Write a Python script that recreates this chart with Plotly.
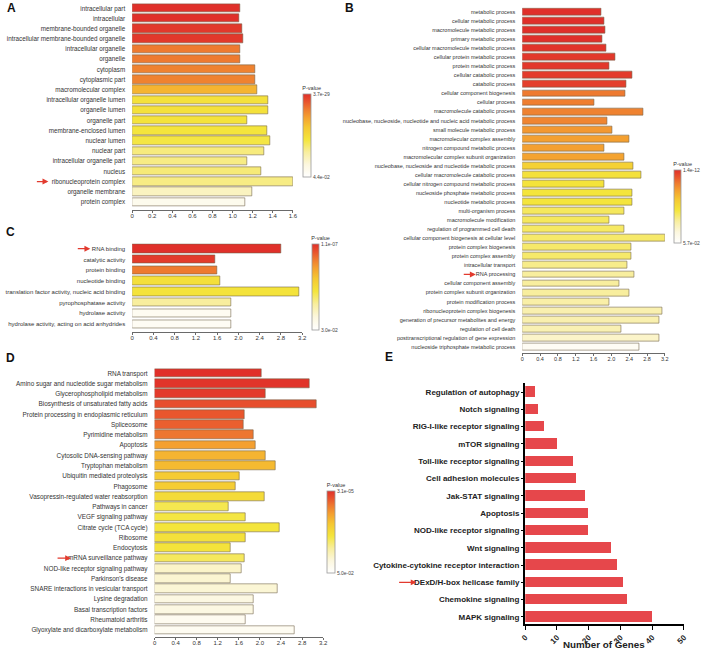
import plotly.graph_objects as go

W, H = 708, 649

# ---------------- data ----------------
A_TERMS = ["intracellular part", "intracellular", "membrane-bounded organelle",
           "intracellular membrane-bounded organelle", "intracellular organelle", "organelle",
           "cytoplasm", "cytoplasmic part", "macromolecular complex",
           "intracellular organelle lumen", "organelle lumen", "organelle part",
           "membrane-enclosed lumen", "nuclear lumen", "nuclear part",
           "intracellular organelle part", "nucleus", "ribonucleoprotein complex",
           "organelle membrane", "protein complex"]
A_ENRICH = [1.075, 1.07, 1.10, 1.11, 1.08, 1.075, 1.22, 1.22, 1.24, 1.35, 1.35, 1.14,
            1.34, 1.37, 1.31, 1.14, 1.28, 1.60, 1.19, 1.13]
A_SIG = [1.0, 1.0, 0.98, 0.98, 0.82, 0.82, 0.80, 0.80, 0.66, 0.47, 0.47, 0.46,
         0.45, 0.44, 0.35, 0.34, 0.36, 0.34, 0.22, 0.08]
A_PV = ("3.7e-29", "4.4e-02")

B_TERMS = ["metabolic process", "cellular metabolic process", "macromolecule metabolic process",
           "primary metabolic process", "cellular macromolecule metabolic process",
           "cellular protein metabolic process", "protein metabolic process",
           "cellular catabolic process", "catabolic process", "cellular component biogenesis",
           "cellular process", "macromolecule catabolic process",
           "nucleobase, nucleoside, nucleotide and nucleic acid metabolic process",
           "small molecule metabolic process", "macromolecular complex assembly",
           "nitrogen compound metabolic process", "macromolecular complex subunit organization",
           "nucleobase, nucleoside and nucleotide metabolic process",
           "cellular macromolecule catabolic process", "cellular nitrogen compound metabolic process",
           "nucleoside phosphate metabolic process", "nucleotide metabolic process",
           "multi-organism process", "macromolecule modification",
           "regulation of programmed cell death", "cellular component biogenesis at cellular level",
           "protein complex biogenesis", "protein complex assembly", "intracellular transport",
           "RNA processing", "cellular component assembly", "protein complex subunit organization",
           "protein modification process", "ribonucleoprotein complex biogenesis",
           "generation of precursor metabolites and energy", "regulation of cell death",
           "posttranscriptional regulation of gene expression",
           "nucleoside triphosphate metabolic process"]
B_ENRICH = [1.78, 1.83, 1.86, 1.79, 1.88, 2.08, 1.95, 2.46, 2.33, 2.31, 1.61, 2.71, 1.90,
            2.02, 2.41, 1.85, 2.29, 2.49, 2.66, 1.84, 2.47, 2.47, 2.29, 1.95, 2.28, 3.20,
            2.45, 2.45, 2.35, 2.51, 2.18, 2.40, 1.96, 3.15, 3.07, 2.23, 3.07, 2.63]
B_SIG = [1.0, 1.0, 1.0, 1.0, 0.99, 0.98, 0.98, 0.97, 0.96, 0.82, 0.81, 0.80, 0.79,
         0.74, 0.72, 0.72, 0.71, 0.55, 0.47, 0.46, 0.45, 0.45, 0.40, 0.40, 0.39, 0.38,
         0.38, 0.38, 0.33, 0.30, 0.30, 0.30, 0.28, 0.26, 0.26, 0.25, 0.20, 0.05]
B_PV = ("1.4e-12", "5.7e-02")

C_TERMS = ["RNA binding", "catalytic activity", "protein binding", "nucleotide binding",
           "translation factor activity, nucleic acid binding", "pyrophosphatase activity",
           "hydrolase activity", "hydrolase activity, acting on acid anhydrides"]
C_ENRICH = [2.80, 1.56, 1.60, 1.66, 3.15, 1.87, 1.87, 1.87]
C_SIG = [1.0, 0.97, 0.82, 0.48, 0.46, 0.30, 0.06, 0.05]
C_PV = ("1.1e-07", "3.0e-02")

D_PATHWAYS = ["RNA transport", "Amino sugar and nucleotide sugar metabolism",
              "Glycerophospholipid metabolism", "Biosynthesis of unsaturated fatty acids",
              "Protein processing in endoplasmic reticulum", "Spliceosome",
              "Pyrimidine metabolism", "Apoptosis", "Cytosolic DNA-sensing pathway",
              "Tryptophan metabolism", "Ubiquitin mediated proteolysis", "Phagosome",
              "Vasopressin-regulated water reabsorption", "Pathways in cancer",
              "VEGF signaling pathway", "Citrate cycle (TCA cycle)", "Ribosome", "Endocytosis",
              "mRNA surveillance pathway", "NOD-like receptor signaling pathway",
              "Parkinson's disease", "SNARE interactions in vesicular transport",
              "Lysine degradation", "Basal transcription factors", "Rheumatoid arthritis",
              "Glyoxylate and dicarboxylate metabolism"]
D_ENRICH = [2.03, 2.95, 2.10, 3.08, 1.70, 1.68, 1.87, 1.91, 2.11, 2.30, 1.62, 1.53, 2.09,
            1.40, 1.72, 2.37, 1.72, 1.44, 1.70, 1.66, 1.44, 2.34, 1.88, 1.88, 1.73, 2.65]
D_SIG = [1.0, 0.99, 0.97, 0.92, 0.90, 0.88, 0.83, 0.72, 0.66, 0.64, 0.58, 0.57, 0.50,
         0.42, 0.44, 0.45, 0.47, 0.46, 0.40, 0.20, 0.18, 0.17, 0.13, 0.13, 0.07, 0.06]
D_PV = ("3.1e-05", "5.0e-02")

E_PATHWAYS = ["Regulation of autophagy", "Notch signaling", "RIG-I-like receptor signaling",
              "mTOR signaling", "Toll-like receptor signaling", "Cell adhesion molecules",
              "Jak-STAT signaling", "Apoptosis", "NOD-like receptor signaling", "Wnt signaling",
              "Cytokine-cytokine receptor interaction", "DExD/H-box helicase family",
              "Chemokine signaling", "MAPK signaling"]
E_GENES = [3, 4, 6, 10, 15, 16, 19, 20, 20, 27, 29, 31, 32, 40]

GO_TICKS_A = [0, 0.2, 0.4, 0.6, 0.8, 1.0, 1.2, 1.4, 1.6]
GO_TICKS = [0, 0.4, 0.8, 1.2, 1.6, 2.0, 2.4, 2.8, 3.2]
E_TICKS = [0, 10, 20, 30, 40, 50]

# -------------- styling --------------
CS = [[0.0, "#ffffff"], [0.15, "#fcf7de"], [0.3, "#f8ee9e"], [0.45, "#f4e53c"],
      [0.6, "#f5c732"], [0.72, "#f4a030"], [0.82, "#ee7a30"], [0.91, "#e8522d"],
      [1.0, "#e0302a"]]
FONT = "Liberation Sans, Arial, sans-serif"
TXT = "#333333"
ARROW = "#e23a2e"


def fx(px):
    return px / W


def fy(px):
    return 1 - px / H


fig = go.Figure()

panels = [
    dict(n="", cats=A_TERMS, vals=A_ENRICH, sig=A_SIG, pv=A_PV, ticks=GO_TICKS_A,
         x0=129, x1=292, xmax=1.6, first=8.3, s=10.19, axis=210, bw=0.82, lab=6.3, tk=6,
         cb=(302, 92, 177, 8), arrow=("ribonucleoprotein complex", 31, 44)),
    dict(n="2", cats=B_TERMS, vals=B_ENRICH, sig=B_SIG, pv=B_PV, ticks=GO_TICKS,
         x0=524.7, x1=669.3, xmax=3.2, first=12, s=9.05, axis=353, bw=0.76, lab=5.5, tk=5.5,
         cb=(678.3, 168.3, 243.3, 7), arrow=("RNA processing", 464, 477.5)),
    dict(n="3", cats=C_TERMS, vals=C_ENRICH, sig=C_SIG, pv=C_PV, ticks=GO_TICKS,
         x0=129, x1=301.5, xmax=3.2, first=248.7, s=10.76, axis=332, bw=0.78, lab=6, tk=6,
         cb=(311, 241.7, 330, 7), arrow=("RNA binding", 72.5, 86.5)),
    dict(n="4", cats=D_PATHWAYS, vals=D_ENRICH, sig=D_SIG, pv=D_PV, ticks=GO_TICKS,
         x0=151.7, x1=322.7, xmax=3.2, first=373.3, s=10.27, axis=637, bw=0.84, lab=6.4, tk=6,
         cb=(326.7, 489, 573.3, 8), arrow=("mRNA surveillance pathway", 52, 67)),
]

annotations = []
for p in panels:
    n = len(p["cats"])
    top = p["first"] - p["s"] / 2
    yr_top = (p["axis"] - top) / p["s"] - 0.5
    xa = "x" + p["n"]
    ya = "y" + p["n"]
    cbx, cbt, cbb, cbth = p["cb"]
    fig.add_trace(go.Bar(
        x=p["vals"], y=p["cats"], orientation="h", width=p["bw"],
        xaxis=xa, yaxis=ya, showlegend=False,
        marker=dict(color=p["sig"], colorscale=CS, cmin=0, cmax=1, showscale=True,
                    line=dict(color="rgba(110,95,70,0.8)", width=0.7),
                    colorbar=dict(
                        title=dict(text="P-value", side="top",
                                   font=dict(size=5.5, color=TXT, family=FONT)),
                        tickvals=[0, 1], ticktext=[p["pv"][1], p["pv"][0]], ticks="",
                        tickfont=dict(size=5, color="#444", family=FONT),
                        thickness=cbth, thicknessmode="pixels",
                        len=(cbb - cbt) + 9, lenmode="pixels",
                        x=fx(cbx), xanchor="left", y=fy(cbb), yanchor="bottom",
                        xpad=0, ypad=0, outlinewidth=0.8, outlinecolor="#9a9a9a",
                        borderwidth=0, bgcolor="rgba(0,0,0,0)"))))
    key_x = "xaxis" + p["n"]
    key_y = "yaxis" + p["n"]
    fig.layout[key_x] = dict(
        domain=[fx(p["x0"]), fx(p["x1"])], range=[0, p["xmax"]], anchor=ya,
        showgrid=False, zeroline=False, showline=True, linecolor="#6a6a6a", linewidth=0.8,
        ticks="outside", ticklen=2, tickcolor="#6a6a6a", tickwidth=0.8,
        ticklabelstandoff=-2,
        tickvals=p["ticks"], ticktext=["0" if v == 0 else f"{v:.1f}" for v in p["ticks"]],
        tickfont=dict(size=p["tk"], color=TXT, family=FONT), fixedrange=True)
    fig.layout[key_y] = dict(
        domain=[fy(p["axis"]), fy(top)], anchor=xa, type="category",
        categoryorder="array", categoryarray=p["cats"], range=[yr_top, -0.5],
        showgrid=False, zeroline=False, showline=False, ticks="",
        ticklabelstandoff=6,
        tickfont=dict(size=p["lab"], color=TXT, family=FONT), fixedrange=True)
    lab, tail, head = p["arrow"]
    annotations.append(dict(
        x=fx(head), xref="paper", y=p["cats"].index(lab), yref=ya, text="",
        showarrow=True, ax=-(head - tail), ay=0, arrowhead=2, arrowsize=0.9,
        arrowwidth=1.3, arrowcolor=ARROW))

# ---------- panel E ----------
sE, firstE, axisE = 17.19, 393.5, 624
topE = firstE - sE / 2
fig.add_trace(go.Bar(
    x=E_GENES, y=E_PATHWAYS, orientation="h", width=0.6, xaxis="x5", yaxis="y5",
    showlegend=False, marker=dict(color="#e6474b", line=dict(width=0))))
fig.layout["xaxis5"] = dict(
    domain=[fx(527.7), fx(688.7)], range=[0, 50], anchor="y5",
    showgrid=False, zeroline=False, showline=True, linecolor="black", linewidth=1.5,
    ticks="outside", ticklen=4, tickwidth=1.2, tickcolor="black",
    tickvals=E_TICKS, tickangle=-45,
    tickfont=dict(size=8, color="#222", family=FONT, weight="bold"),
    fixedrange=True)
fig.layout["yaxis5"] = dict(
    domain=[fy(axisE), fy(topE - 1.5)], anchor="x5", type="category",
    categoryorder="array", categoryarray=E_PATHWAYS,
    range=[(axisE - topE) / sE - 0.5, -0.5],
    showgrid=False, zeroline=False, showline=True, linecolor="black", linewidth=1.5,
    ticks="outside", ticklen=2.5, tickwidth=1, tickcolor="black",
    tickfont=dict(size=8, color="#222", family=FONT, weight="bold"), fixedrange=True)
annotations.append(dict(
    x=fx(417.5), xref="paper", y=E_PATHWAYS.index("DExD/H-box helicase family"), yref="y5",
    text="", showarrow=True, ax=-19, ay=0, arrowhead=2, arrowsize=0.9, arrowwidth=1.3,
    arrowcolor=ARROW))
annotations.append(dict(
    x=fx(608), y=fy(644), xref="paper", yref="paper", text="<b>Number of Genes</b>",
    showarrow=False, xanchor="center", yanchor="middle",
    font=dict(size=9.8, color="#222", family=FONT)))

# panel letters
for letter, px, py in [("A", 7, 8), ("B", 349, 8), ("C", 6, 232), ("D", 6, 358), ("E", 389, 357)]:
    annotations.append(dict(
        x=fx(px), y=fy(py), xref="paper", yref="paper", text=f"<b>{letter}</b>",
        showarrow=False, xanchor="center", yanchor="middle",
        font=dict(size=12, color="#111", family=FONT)))

fig.update_layout(
    width=W, height=H, autosize=False, margin=dict(l=0, r=0, t=0, b=0),
    paper_bgcolor="white", plot_bgcolor="white", annotations=annotations,
    font=dict(family=FONT, color=TXT), bargap=0)

fig.write_html("out.html", config={"displayModeBar": False},
               post_script="document.body.style.margin='0';document.body.style.overflow='hidden';")
